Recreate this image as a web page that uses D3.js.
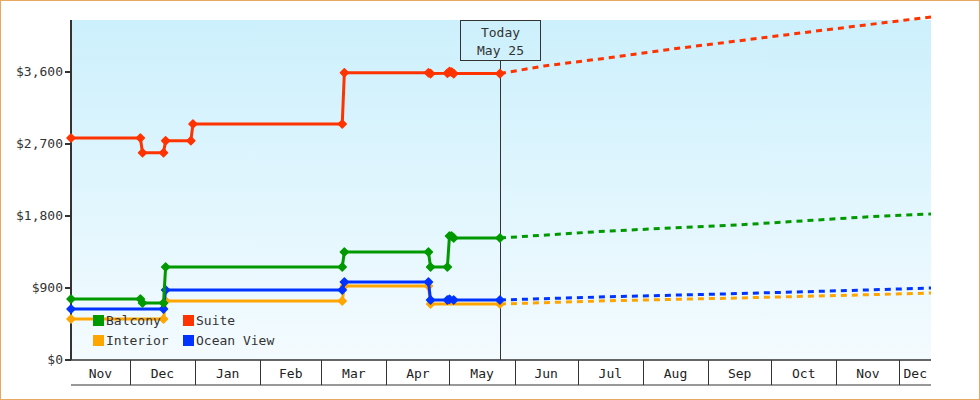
<!DOCTYPE html>
<html><head><meta charset="utf-8">
<script src="https://cdn.jsdelivr.net/npm/d3@7"></script>
<style>
body{margin:0;background:#fff}
svg{font-family:"DejaVu Sans Mono",monospace;display:block}
</style></head>
<body><div id="chart"></div>
<script>
var W = 980, H = 400;
var m = {l: 71, r: 49, t: 20, b: 40}; // plot 71..931, 20..360

var parse = d3.timeParse("%Y-%m-%d");
var seriesNames = ["Suite", "Balcony", "Ocean View", "Interior"];
var colors = {"Suite": "#ff3300", "Balcony": "#009900", "Ocean View": "#0033ff", "Interior": "#ffa500"};

var suite = [["2023-11-03",2775],["2023-12-06",2775],["2023-12-07",2590],["2023-12-17",2590],["2023-12-18",2740],["2023-12-30",2740],["2023-12-31",2950],["2024-03-11",2950],["2024-03-12",3590],["2024-04-21",3590],["2024-04-22",3580],["2024-04-30",3585],["2024-05-01",3605],["2024-05-02",3600],["2024-05-03",3580],["2024-05-25",3580]];
var balcony = [["2023-11-03",762],["2023-12-06",762],["2023-12-07",712],["2023-12-17",712],["2023-12-18",1162],["2024-03-11",1162],["2024-03-12",1350],["2024-04-21",1350],["2024-04-22",1162],["2024-04-30",1162],["2024-05-01",1550],["2024-05-02",1550],["2024-05-03",1525],["2024-05-25",1525]];
var ocean = [["2023-11-03",637],["2023-12-17",637],["2023-12-18",875],["2024-03-11",875],["2024-03-12",975],["2024-04-21",975],["2024-04-22",750],["2024-04-30",750],["2024-05-01",760],["2024-05-03",750],["2024-05-25",750]];
var interior = [["2023-11-03",512],["2023-12-17",512],["2023-12-18",737],["2024-03-11",737],["2024-03-12",925],["2024-04-21",925],["2024-04-22",700],["2024-05-25",700]];

var suiteF = [["2024-05-25",3580],["2024-06-15",3675],["2024-07-15",3775],["2024-08-15",3888],["2024-09-15",3988],["2024-10-15",4088],["2024-11-15",4188],["2024-12-16",4288]];
var balconyF = [["2024-05-25",1525],["2024-07-15",1612],["2024-09-15",1688],["2024-11-15",1788],["2024-12-16",1825]];
var oceanF = [["2024-05-25",750],["2024-07-15",790],["2024-09-15",830],["2024-11-15",875],["2024-12-16",900]];
var interiorF = [["2024-05-25",700],["2024-07-15",740],["2024-09-15",775],["2024-11-15",815],["2024-12-16",837]];

var pastData = {"Suite": suite, "Balcony": balcony, "Ocean View": ocean, "Interior": interior};
var forecastData = {"Suite": suiteF, "Balcony": balconyF, "Ocean View": oceanF, "Interior": interiorF};
var yTicks = [0, 900, 1800, 2700, 3600];
var monthStarts = ["2023-11-01","2023-12-01","2024-01-01","2024-02-01","2024-03-01","2024-04-01","2024-05-01","2024-06-01","2024-07-01","2024-08-01","2024-09-01","2024-10-01","2024-11-01","2024-12-01","2025-01-01"];
var today = "2024-05-25";

var x = d3.scaleTime().domain([parse("2023-11-03"), parse("2024-12-16")]).range([m.l, W - m.r]);
var y = d3.scaleLinear().domain([0, 4250]).range([H - m.b, m.t]);

var svg = d3.select("#chart").append("svg").attr("width", W).attr("height", H);
svg.append("rect").attr("x",0.5).attr("y",0.5).attr("width",W-1).attr("height",H-1)
  .attr("fill","#fff").attr("stroke","#e8a860");

var grad = svg.append("defs").append("linearGradient").attr("id","bg").attr("x1",0).attr("x2",0).attr("y1",0).attr("y2",1);
grad.append("stop").attr("offset","0%").attr("stop-color","#ccf0fc");
grad.append("stop").attr("offset","100%").attr("stop-color","#f4fbff");
svg.append("rect").attr("x",m.l).attr("y",m.t).attr("width",W-m.r-m.l).attr("height",H-m.b-m.t).attr("fill","url(#bg)");

// y axis
svg.append("line").attr("x1",m.l).attr("x2",m.l).attr("y1",m.t).attr("y2",H-m.b).attr("stroke","#333").attr("stroke-width",2);
yTicks.forEach(function(v){
  svg.append("line").attr("x1",m.l-6).attr("x2",m.l).attr("y1",y(v)).attr("y2",y(v)).attr("stroke","#333").attr("stroke-width",2);
  svg.append("text").attr("x",m.l-8).attr("y",y(v)+4).attr("text-anchor","end").attr("font-size",13).attr("fill","#333")
    .text("$" + d3.format(",")(v));
});

// x axis band
var xb = H - m.b, xb2 = xb + 25;
svg.append("line").attr("x1",m.l).attr("x2",W-m.r).attr("y1",xb).attr("y2",xb).attr("stroke","#333").attr("stroke-width",1.5);
svg.append("line").attr("x1",m.l).attr("x2",W-m.r).attr("y1",xb2).attr("y2",xb2).attr("stroke","#333").attr("stroke-width",1);
var ms = monthStarts.map(parse);
for (var i = 0; i < ms.length - 1; i++) {
  var a = Math.max(x(ms[i]), m.l), b = Math.min(x(ms[i+1]), W - m.r);
  if (i > 0) svg.append("line").attr("x1",Math.round(a)+0.5).attr("x2",Math.round(a)+0.5).attr("y1",xb).attr("y2",xb2).attr("stroke","#333");
  svg.append("text").attr("x",(a+b)/2).attr("y",xb+18).attr("text-anchor","middle").attr("font-size",13).attr("fill","#222")
    .text(d3.timeFormat("%b")(ms[i]));
}

// today line & box
var tx = Math.round(x(parse(today))) + 0.5;
svg.append("line").attr("x1",tx).attr("x2",tx).attr("y1",60).attr("y2",xb).attr("stroke","#333");
svg.append("rect").attr("x",tx-40).attr("y",20.5).attr("width",80).attr("height",40).attr("fill","none").attr("stroke","#333");
svg.append("text").attr("x",tx).attr("y",37).attr("text-anchor","middle").attr("font-size",13).attr("fill","#333").text("Today");
svg.append("text").attr("x",tx).attr("y",55).attr("text-anchor","middle").attr("font-size",13).attr("fill","#333").text("May 25");

var line = d3.line().x(function(d){return x(parse(d[0]));}).y(function(d){return y(d[1]);});
var diamond = d3.symbol().type(d3.symbolSquare).size(32);

seriesNames.slice().reverse().forEach(function(s){
  var c = colors[s];
  svg.append("path").attr("d", line(forecastData[s])).attr("fill","none").attr("stroke",c).attr("stroke-width",3).attr("stroke-dasharray","6,5");
  svg.append("path").attr("d", line(pastData[s])).attr("fill","none").attr("stroke",c).attr("stroke-width",3);
  svg.selectAll(null).data(pastData[s]).enter().append("path")
    .attr("d", diamond).attr("fill", c).attr("stroke", c).attr("stroke-width", 1.5).attr("stroke-linejoin","round")
    .attr("transform", function(d){return "translate(" + x(parse(d[0])) + "," + y(d[1]) + ") rotate(45)";});
});

// legend
var legend = [["Balcony",93,315],["Suite",183,315],["Interior",93,335],["Ocean View",183,335]];
legend.forEach(function(l){
  svg.append("rect").attr("x",l[1]).attr("y",l[2]).attr("width",11).attr("height",11).attr("fill",colors[l[0]]);
  svg.append("text").attr("x",l[1]+13).attr("y",l[2]+10).attr("font-size",13).attr("fill","#333").text(l[0]);
});
</script></body></html>
